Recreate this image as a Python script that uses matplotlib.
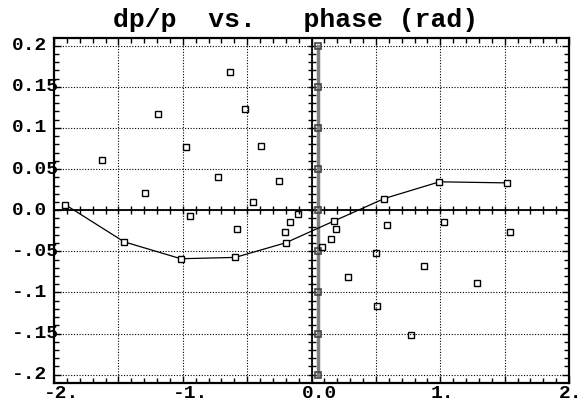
import numpy as np
import matplotlib
matplotlib.use("Agg")
import matplotlib.pyplot as plt
from matplotlib.ticker import MultipleLocator

# connected series (phase, dp/p)
line_x = [-1.914, -1.456, -1.015, -0.593, -0.200, 0.178, 0.566, 0.994, 1.52]
line_y = [0.0069, -0.0384, -0.059, -0.0574, -0.0396, -0.0129, 0.0142, 0.0345, 0.0332]

# loose points
pts_x = [-1.629, -1.295, -1.196, -0.971, -0.725, -0.634, -0.515, -0.457, -0.39, -0.25,
         -0.945, -0.577, -0.204, -0.167, -0.103, 0.188, 0.152, 0.084, 0.284, 0.59,
         0.499, 0.512, 0.877, 0.771, 1.03, 1.287, 1.538]
pts_y = [0.0612, 0.0211, 0.1174, 0.0765, 0.0405, 0.168, 0.123, 0.0097, 0.0782, 0.0357,
         -0.0068, -0.0226, -0.0271, -0.0149, -0.0052, -0.0234, -0.0347, -0.0444, -0.0817, -0.0177,
         -0.0517, -0.1169, -0.068, -0.1512, -0.0149, -0.0886, -0.0262]

# reference column near zero phase
ref_x = [0.048] * 9
ref_y = [0.2, 0.15, 0.1, 0.05, 0.0, -0.05, -0.1, -0.15, -0.2]

xticks = [-2, -1, 0, 1, 2]
xlabels = ["-2.", "-1.", "0.0", "1.", "2."]
yticks = [0.2, 0.15, 0.1, 0.05, 0.0, -0.05, -0.1, -0.15, -0.2]
ylabels = ["0.2", "0.15", "0.1", "0.05", "0.0", "-.05", "-.1", "-.15", "-.2"]

font = "Liberation Mono"

fig = plt.figure(figsize=(5.83, 4.03), dpi=100)
ax = fig.add_axes([54/583, 20.3/403, 515/583, 345/403])
ax.set_xlim(-2, 2)
ax.set_ylim(-0.2097, 0.2097)

# grid
for gx in np.arange(-1.5, 2.0, 0.5):
    ax.axvline(gx, color="k", lw=0.8, ls=(0, (1, 1.5)), zorder=1)
for gy in np.arange(-0.2, 0.21, 0.05):
    ax.axhline(gy, color="k", lw=0.8, ls=(0, (1, 1.5)), zorder=1)

# axes through origin with crossing ticks
ax.axhline(0, color="k", lw=1.3, zorder=2)
ax.axvline(0, color="k", lw=1.3, zorder=2)
tx = np.arange(-1.9, 2.0, 0.1)
ax.plot(tx, np.zeros_like(tx), ls="none", marker="|", ms=6, mew=1, color="k", zorder=2)
ty = np.arange(-0.2, 0.201, 0.01)
ax.plot(np.zeros_like(ty), ty, ls="none", marker="_", ms=6, mew=1, color="k", zorder=2)

# spines ticks
ax.xaxis.set_major_locator(MultipleLocator(0.5))
ax.xaxis.set_minor_locator(MultipleLocator(0.1))
ax.yaxis.set_major_locator(MultipleLocator(0.05))
ax.yaxis.set_minor_locator(MultipleLocator(0.01))
ax.tick_params(which="both", direction="in", top=True, right=True,
               labelbottom=False, labelleft=False, width=1)
ax.tick_params(which="major", length=5)
ax.tick_params(which="minor", length=3.5)
for s in ax.spines.values():
    s.set_linewidth(1.6)

ax.plot(ref_x, ref_y, color="#808080", lw=2.5, marker="s", ms=5, mfc="none",
        mec="#444444", mew=1.2, zorder=3)
ax.plot(line_x, line_y, color="k", lw=0.9, marker="s", ms=5, mfc="white",
        mec="k", mew=1, zorder=4)
ax.plot(pts_x, pts_y, ls="none", marker="s", ms=5, mfc="none", mec="k", mew=1, zorder=4)

for v, lab in zip(xticks, xlabels):
    ax.annotate(lab, xy=(v, 0), xycoords=("data", "axes fraction"),
                xytext=(-7, -2), textcoords="offset points", ha="left", va="top",
                fontsize=14, fontweight="bold", family=font, annotation_clip=False)
for v, lab in zip(yticks, ylabels):
    ax.annotate(lab, xy=(0, v), xycoords=("axes fraction", "data"),
                xytext=(-30, 0), textcoords="offset points", ha="left", va="center",
                fontsize=14, fontweight="bold", family=font, annotation_clip=False)

fig.text(296/583, 1 - 20/403, "dp/p  vs.   phase (rad)", ha="center", va="center",
         fontsize=19, fontweight="bold", family=font)

fig.savefig("out.png", dpi=100)
